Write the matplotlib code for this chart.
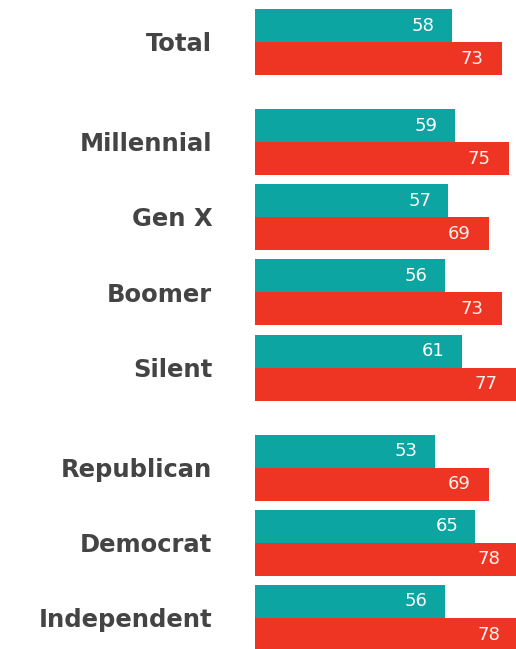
import matplotlib
matplotlib.use('Agg')
import matplotlib.pyplot as plt

categories = ['Total', 'Millennial', 'Gen X', 'Boomer', 'Silent',
              'Republican', 'Democrat', 'Independent']
group_of = [0, 1, 1, 1, 1, 2, 2, 2]
teal_values = [58, 59, 57, 56, 61, 53, 65, 56]
red_values = [73, 75, 69, 73, 77, 69, 78, 78]

teal = '#0da5a1'
red = '#ee3524'

# row positions: 1 unit per row plus extra gap between groups
gap = 0.33
ypos = [i + gap * g for i, g in enumerate(group_of)]
h = 0.44

fig = plt.figure(figsize=(5.16, 6.49), dpi=100)
ax = fig.add_axes([255 / 516, 0, 1 - 255 / 516, 1])

for y, tv, rv in zip(ypos, teal_values, red_values):
    ax.barh(y - h / 2, tv, height=h, color=teal, linewidth=0)
    ax.barh(y + h / 2, rv, height=h, color=red, linewidth=0)
    ax.text(tv - 5, y - h / 2, str(tv), color='white', fontsize=13,
            ha='right', va='center')
    ax.text(rv - 5.5, y + h / 2, str(rv), color='#fff3ee', fontsize=13,
            ha='right', va='center')

ax.set_xlim(0, 77)
ax.set_ylim(ypos[-1] + 31 / 75.1, -42 / 75.1)
ax.axis('off')

for y, name in zip(ypos, categories):
    ax.text(-12.6, y + 0.03, name, fontsize=17.5, fontweight='bold',
            color='#444444', ha='right', va='center', clip_on=False)

fig.savefig('out.png', dpi=100)
